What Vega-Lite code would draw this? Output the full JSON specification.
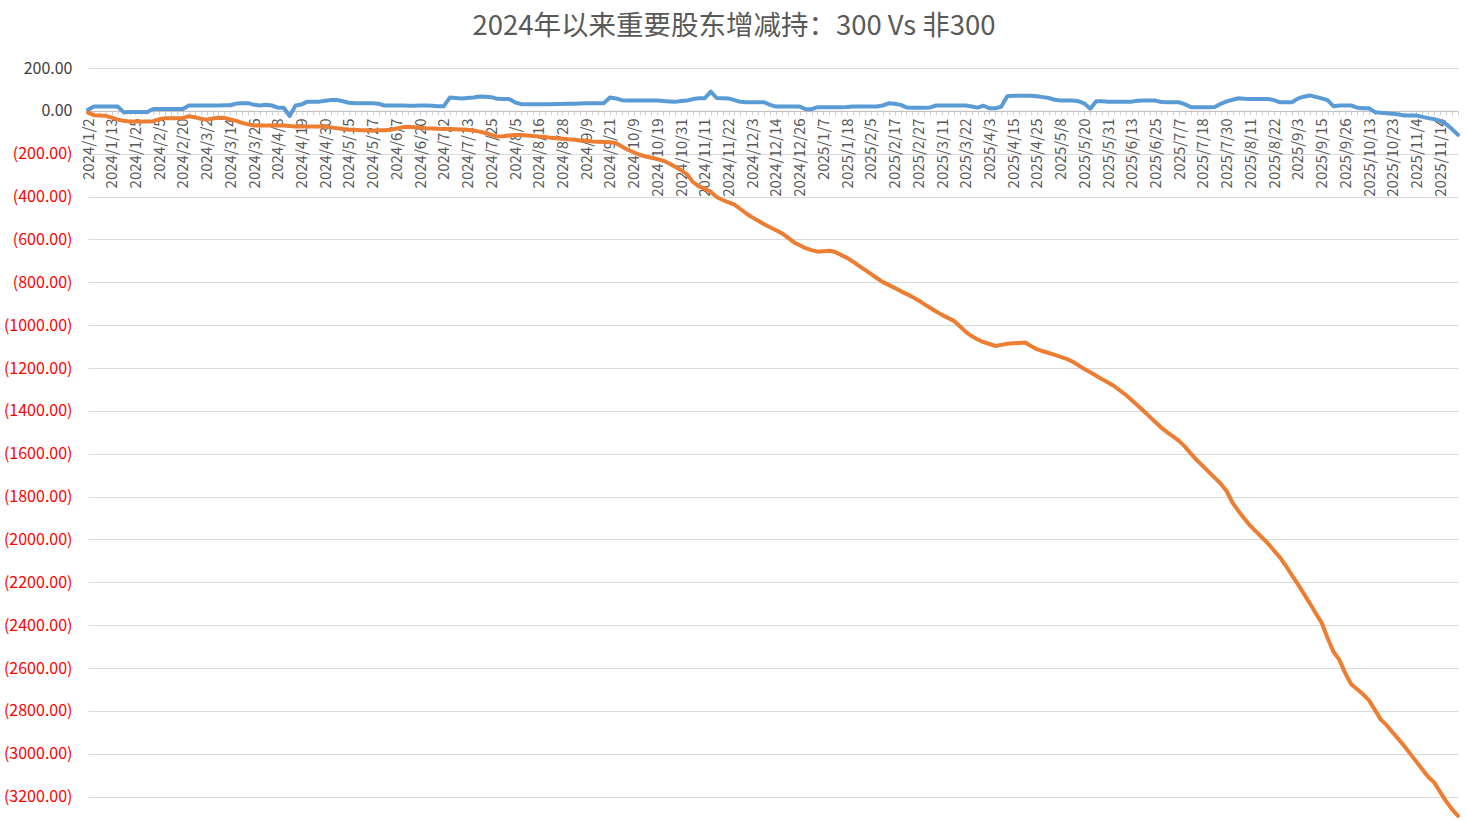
{
  "$schema": "https://vega.github.io/schema/vega-lite/v6.json",
  "width": 1370,
  "height": 750,
  "autosize": {"type": "none"},
  "padding": {"left": 88, "top": 68, "right": 9, "bottom": 4},
  "background": "white",
  "config": {"view": {"stroke": null}},
  "params": [
    {"name": "labs", "value": ["2024/1/2","2024/1/13","2024/1/25","2024/2/5","2024/2/20","2024/3/2","2024/3/14","2024/3/26","2024/4/8","2024/4/19","2024/4/30","2024/5/15","2024/5/27","2024/6/7","2024/6/20","2024/7/2","2024/7/13","2024/7/25","2024/8/5","2024/8/16","2024/8/28","2024/9/9","2024/9/21","2024/10/9","2024/10/19","2024/10/31","2024/11/11","2024/11/22","2024/12/3","2024/12/14","2024/12/26","2025/1/7","2025/1/18","2025/2/5","2025/2/17","2025/2/27","2025/3/11","2025/3/22","2025/4/3","2025/4/15","2025/4/25","2025/5/8","2025/5/20","2025/5/31","2025/6/13","2025/6/25","2025/7/7","2025/7/18","2025/7/30","2025/8/11","2025/8/22","2025/9/3","2025/9/15","2025/9/26","2025/10/13","2025/10/23","2025/11/4","2025/11/14"]}
  ],
  "title": {
    "text": "2024年以来重要股东增减持：300 Vs 非300",
    "font": "Noto Sans CJK SC",
    "fontSize": 27.5,
    "fontWeight": "normal",
    "color": "#595959",
    "anchor": "middle",
    "frame": "group",
    "dx": -39,
    "offset": 20
  },
  "data": {"values": [
    {"d":"2024/1/2","300":5,"非300":-8},
    {"d":"2024/1/4","300":20,"非300":-20},
    {"d":"2024/1/8","300":20,"非300":-22},
    {"d":"2024/1/10","300":20,"非300":-23},
    {"d":"2024/1/13","300":20,"非300":-32},
    {"d":"2024/1/16","300":20,"非300":-41},
    {"d":"2024/1/18","300":-6,"非300":-46},
    {"d":"2024/1/22","300":-5,"非300":-50},
    {"d":"2024/1/25","300":-5,"非300":-50},
    {"d":"2024/1/27","300":-5,"非300":-50},
    {"d":"2024/1/30","300":-5,"非300":-50},
    {"d":"2024/2/1","300":9,"非300":-48},
    {"d":"2024/2/5","300":9,"非300":-39},
    {"d":"2024/2/6","300":9,"非300":-34},
    {"d":"2024/2/8","300":9,"非300":-34},
    {"d":"2024/2/19","300":9,"非300":-34},
    {"d":"2024/2/20","300":9,"非300":-34},
    {"d":"2024/2/22","300":25,"非300":-25},
    {"d":"2024/2/26","300":25,"非300":-30},
    {"d":"2024/2/28","300":25,"非300":-37},
    {"d":"2024/3/2","300":25,"非300":-41},
    {"d":"2024/3/5","300":25,"非300":-36},
    {"d":"2024/3/8","300":25,"非300":-32},
    {"d":"2024/3/11","300":26,"非300":-33},
    {"d":"2024/3/14","300":26,"非300":-40},
    {"d":"2024/3/18","300":34,"非300":-47},
    {"d":"2024/3/20","300":36,"非300":-56},
    {"d":"2024/3/22","300":36,"非300":-63},
    {"d":"2024/3/26","300":28,"非300":-68},
    {"d":"2024/3/28","300":25,"非300":-68},
    {"d":"2024/4/1","300":28,"非300":-68},
    {"d":"2024/4/3","300":25,"非300":-68},
    {"d":"2024/4/8","300":15,"非300":-68},
    {"d":"2024/4/10","300":15,"非300":-68},
    {"d":"2024/4/12","300":-24,"非300":-71},
    {"d":"2024/4/16","300":25,"非300":-73},
    {"d":"2024/4/19","300":30,"非300":-73},
    {"d":"2024/4/22","300":43,"非300":-73},
    {"d":"2024/4/24","300":43,"非300":-73},
    {"d":"2024/4/26","300":43,"非300":-73},
    {"d":"2024/4/30","300":47,"非300":-73},
    {"d":"2024/5/7","300":51,"非300":-77},
    {"d":"2024/5/9","300":51,"非300":-81},
    {"d":"2024/5/13","300":45,"非300":-85},
    {"d":"2024/5/15","300":38,"非300":-87},
    {"d":"2024/5/17","300":36,"非300":-88},
    {"d":"2024/5/21","300":36,"非300":-90},
    {"d":"2024/5/23","300":36,"非300":-91},
    {"d":"2024/5/27","300":36,"非300":-93},
    {"d":"2024/5/29","300":33,"非300":-91},
    {"d":"2024/5/31","300":25,"非300":-90},
    {"d":"2024/6/4","300":25,"非300":-88},
    {"d":"2024/6/7","300":25,"非300":-82},
    {"d":"2024/6/12","300":25,"非300":-77},
    {"d":"2024/6/14","300":24,"非300":-74},
    {"d":"2024/6/18","300":24,"非300":-76},
    {"d":"2024/6/20","300":25,"非300":-79},
    {"d":"2024/6/24","300":25,"非300":-81},
    {"d":"2024/6/26","300":24,"非300":-82},
    {"d":"2024/6/28","300":22,"非300":-84},
    {"d":"2024/7/2","300":22,"非300":-85},
    {"d":"2024/7/4","300":62,"非300":-85},
    {"d":"2024/7/8","300":60,"非300":-86},
    {"d":"2024/7/10","300":58,"非300":-87},
    {"d":"2024/7/13","300":60,"非300":-88},
    {"d":"2024/7/16","300":62,"非300":-92},
    {"d":"2024/7/18","300":67,"非300":-97},
    {"d":"2024/7/22","300":66,"非300":-103},
    {"d":"2024/7/25","300":64,"非300":-112},
    {"d":"2024/7/29","300":56,"非300":-120},
    {"d":"2024/7/31","300":55,"非300":-118},
    {"d":"2024/8/2","300":55,"非300":-115},
    {"d":"2024/8/5","300":40,"非300":-113},
    {"d":"2024/8/7","300":31,"非300":-113},
    {"d":"2024/8/9","300":31,"非300":-115},
    {"d":"2024/8/13","300":31,"非300":-117},
    {"d":"2024/8/16","300":31,"非300":-120},
    {"d":"2024/8/20","300":31,"非300":-122},
    {"d":"2024/8/22","300":31,"非300":-125},
    {"d":"2024/8/26","300":32,"非300":-128},
    {"d":"2024/8/28","300":32,"非300":-130},
    {"d":"2024/8/30","300":33,"非300":-133},
    {"d":"2024/9/3","300":33,"非300":-135},
    {"d":"2024/9/5","300":34,"非300":-138},
    {"d":"2024/9/9","300":35,"非300":-140},
    {"d":"2024/9/11","300":36,"非300":-143},
    {"d":"2024/9/13","300":36,"非300":-144},
    {"d":"2024/9/19","300":36,"非300":-145},
    {"d":"2024/9/21","300":62,"非300":-147},
    {"d":"2024/9/25","300":58,"非300":-150},
    {"d":"2024/9/27","300":50,"非300":-166},
    {"d":"2024/9/30","300":48,"非300":-181},
    {"d":"2024/10/9","300":48,"非300":-193},
    {"d":"2024/10/11","300":48,"非300":-205},
    {"d":"2024/10/15","300":48,"非300":-213},
    {"d":"2024/10/17","300":48,"非300":-219},
    {"d":"2024/10/19","300":48,"非300":-225},
    {"d":"2024/10/23","300":46,"非300":-232},
    {"d":"2024/10/25","300":44,"非300":-246},
    {"d":"2024/10/29","300":42,"非300":-261},
    {"d":"2024/10/31","300":46,"非300":-277},
    {"d":"2024/11/4","300":48,"非300":-296},
    {"d":"2024/11/6","300":55,"非300":-332},
    {"d":"2024/11/8","300":59,"非300":-352},
    {"d":"2024/11/11","300":59,"非300":-363},
    {"d":"2024/11/14","300":90,"非300":-378},
    {"d":"2024/11/18","300":60,"非300":-402},
    {"d":"2024/11/20","300":59,"非300":-416},
    {"d":"2024/11/22","300":58,"非300":-427},
    {"d":"2024/11/26","300":50,"非300":-438},
    {"d":"2024/11/28","300":42,"非300":-458},
    {"d":"2024/11/30","300":40,"非300":-479},
    {"d":"2024/12/3","300":40,"非300":-497},
    {"d":"2024/12/5","300":40,"非300":-513},
    {"d":"2024/12/9","300":40,"非300":-529},
    {"d":"2024/12/11","300":28,"非300":-543},
    {"d":"2024/12/14","300":20,"非300":-557},
    {"d":"2024/12/17","300":20,"非300":-571},
    {"d":"2024/12/19","300":20,"非300":-592},
    {"d":"2024/12/23","300":20,"非300":-613},
    {"d":"2024/12/26","300":20,"非300":-627},
    {"d":"2024/12/30","300":8,"非300":-641},
    {"d":"2025/1/2","300":8,"非300":-650},
    {"d":"2025/1/3","300":17,"非300":-657},
    {"d":"2025/1/7","300":17,"非300":-655},
    {"d":"2025/1/9","300":17,"非300":-653},
    {"d":"2025/1/13","300":17,"非300":-659},
    {"d":"2025/1/15","300":17,"非300":-673},
    {"d":"2025/1/18","300":18,"非300":-686},
    {"d":"2025/1/21","300":20,"非300":-704},
    {"d":"2025/1/23","300":20,"非300":-723},
    {"d":"2025/1/27","300":20,"非300":-742},
    {"d":"2025/2/5","300":20,"非300":-761},
    {"d":"2025/2/7","300":20,"非300":-780},
    {"d":"2025/2/11","300":25,"非300":-799},
    {"d":"2025/2/13","300":35,"非300":-812},
    {"d":"2025/2/17","300":33,"非300":-826},
    {"d":"2025/2/19","300":28,"非300":-841},
    {"d":"2025/2/21","300":16,"非300":-854},
    {"d":"2025/2/25","300":15,"非300":-868},
    {"d":"2025/2/27","300":15,"非300":-884},
    {"d":"2025/3/3","300":15,"非300":-902},
    {"d":"2025/3/5","300":16,"非300":-919},
    {"d":"2025/3/7","300":25,"非300":-936},
    {"d":"2025/3/11","300":25,"非300":-952},
    {"d":"2025/3/13","300":25,"非300":-966},
    {"d":"2025/3/17","300":25,"非300":-980},
    {"d":"2025/3/19","300":25,"非300":-1005},
    {"d":"2025/3/22","300":25,"非300":-1031},
    {"d":"2025/3/25","300":20,"非300":-1051},
    {"d":"2025/3/27","300":15,"非300":-1067},
    {"d":"2025/3/31","300":24,"非300":-1079},
    {"d":"2025/4/3","300":12,"非300":-1088},
    {"d":"2025/4/7","300":12,"非300":-1097},
    {"d":"2025/4/9","300":20,"非300":-1092},
    {"d":"2025/4/11","300":68,"非300":-1087},
    {"d":"2025/4/15","300":70,"非300":-1085},
    {"d":"2025/4/17","300":70,"非300":-1083},
    {"d":"2025/4/21","300":70,"非300":-1081},
    {"d":"2025/4/23","300":70,"非300":-1097},
    {"d":"2025/4/25","300":68,"非300":-1112},
    {"d":"2025/4/28","300":64,"非300":-1122},
    {"d":"2025/4/30","300":60,"非300":-1130},
    {"d":"2025/5/6","300":52,"非300":-1139},
    {"d":"2025/5/8","300":48,"非300":-1148},
    {"d":"2025/5/12","300":48,"非300":-1157},
    {"d":"2025/5/14","300":48,"非300":-1170},
    {"d":"2025/5/16","300":45,"非300":-1187},
    {"d":"2025/5/20","300":34,"非300":-1205},
    {"d":"2025/5/22","300":10,"非300":-1220},
    {"d":"2025/5/26","300":45,"非300":-1236},
    {"d":"2025/5/28","300":45,"非300":-1253},
    {"d":"2025/5/31","300":43,"非300":-1268},
    {"d":"2025/6/4","300":43,"非300":-1284},
    {"d":"2025/6/6","300":43,"非300":-1305},
    {"d":"2025/6/10","300":43,"非300":-1326},
    {"d":"2025/6/13","300":43,"非300":-1350},
    {"d":"2025/6/17","300":47,"非300":-1375},
    {"d":"2025/6/19","300":48,"非300":-1401},
    {"d":"2025/6/23","300":48,"非300":-1427},
    {"d":"2025/6/25","300":48,"非300":-1453},
    {"d":"2025/6/27","300":41,"非300":-1479},
    {"d":"2025/7/1","300":40,"非300":-1500},
    {"d":"2025/7/3","300":40,"非300":-1520},
    {"d":"2025/7/7","300":40,"非300":-1541},
    {"d":"2025/7/9","300":30,"非300":-1568},
    {"d":"2025/7/11","300":17,"非300":-1601},
    {"d":"2025/7/15","300":17,"非300":-1631},
    {"d":"2025/7/18","300":17,"非300":-1658},
    {"d":"2025/7/22","300":17,"非300":-1686},
    {"d":"2025/7/24","300":18,"非300":-1713},
    {"d":"2025/7/28","300":33,"非300":-1740},
    {"d":"2025/7/30","300":44,"非300":-1775},
    {"d":"2025/8/1","300":52,"非300":-1829},
    {"d":"2025/8/5","300":59,"非300":-1868},
    {"d":"2025/8/7","300":56,"非300":-1903},
    {"d":"2025/8/11","300":55,"非300":-1937},
    {"d":"2025/8/13","300":55,"非300":-1965},
    {"d":"2025/8/15","300":55,"非300":-1992},
    {"d":"2025/8/19","300":55,"非300":-2020},
    {"d":"2025/8/22","300":50,"非300":-2053},
    {"d":"2025/8/26","300":40,"非300":-2085},
    {"d":"2025/8/28","300":40,"非300":-2124},
    {"d":"2025/9/1","300":40,"非300":-2167},
    {"d":"2025/9/3","300":57,"非300":-2209},
    {"d":"2025/9/5","300":66,"非300":-2253},
    {"d":"2025/9/9","300":72,"非300":-2297},
    {"d":"2025/9/11","300":65,"非300":-2344},
    {"d":"2025/9/15","300":58,"非300":-2388},
    {"d":"2025/9/17","300":50,"非300":-2460},
    {"d":"2025/9/19","300":22,"非300":-2524},
    {"d":"2025/9/23","300":25,"非300":-2562},
    {"d":"2025/9/26","300":25,"非300":-2625},
    {"d":"2025/9/29","300":25,"非300":-2676},
    {"d":"2025/10/9","300":15,"非300":-2699},
    {"d":"2025/10/10","300":12,"非300":-2723},
    {"d":"2025/10/13","300":12,"非300":-2751},
    {"d":"2025/10/15","300":-6,"非300":-2796},
    {"d":"2025/10/17","300":-9,"非300":-2841},
    {"d":"2025/10/21","300":-11,"非300":-2868},
    {"d":"2025/10/23","300":-13,"非300":-2901},
    {"d":"2025/10/27","300":-17,"非300":-2933},
    {"d":"2025/10/29","300":-22,"非300":-2966},
    {"d":"2025/10/31","300":-22,"非300":-3002},
    {"d":"2025/11/4","300":-22,"非300":-3038},
    {"d":"2025/11/6","300":-28,"非300":-3074},
    {"d":"2025/11/10","300":-34,"非300":-3109},
    {"d":"2025/11/12","300":-39,"非300":-3135},
    {"d":"2025/11/14","300":-47,"非300":-3179},
    {"d":"2025/11/17","300":-62,"非300":-3222},
    {"d":"2025/11/19","300":-85,"非300":-3260},
    {"d":"2025/11/21","300":-112,"非300":-3290}
  ]},
  "transform": [{"fold": ["300", "非300"], "as": ["s", "v"]}],
  "mark": {"type": "line", "strokeWidth": 4, "strokeJoin": "round", "strokeCap": "round"},
  "encoding": {
    "x": {
      "field": "d",
      "type": "ordinal",
      "sort": null,
      "scale": {"type": "point", "padding": 0},
      "axis": {
        "title": null,
        "orient": "bottom",
        "offset": -707.143,
        "grid": false,
        "labelExpr": "indexof(labs, datum.value) >= 0 ? datum.value : ''",
        "labelOverlap": false,
        "labelFlush": false,
        "labelBound": false,
        "labelAngle": -90,
        "labelFont": "Noto Sans CJK SC",
        "labelFontSize": 15,
        "labelColor": "#595959",
        "labelPadding": 3,
        "tickSize": 4,
        "tickColor": "#D0D0D0",
        "domainColor": "#BFBFBF",
        "domainWidth": 1
      }
    },
    "y": {
      "field": "v",
      "type": "quantitative",
      "scale": {"domain": [-3300, 200], "nice": false, "zero": false},
      "axis": {
        "title": null,
        "values": [200, 0, -200, -400, -600, -800, -1000, -1200, -1400, -1600, -1800, -2000, -2200, -2400, -2600, -2800, -3000, -3200],
        "labelExpr": "datum.value < 0 ? '(' + format(-datum.value, '.2f') + ')' : format(datum.value, '.2f') + '\u00a0'",
        "labelColor": {"condition": {"test": "datum.value < 0", "value": "#FF0000"}, "value": "#404040"},
        "labelFont": "Noto Sans CJK SC",
        "labelFontSize": 16,
        "labelPadding": 16,
        "ticks": false,
        "domain": false,
        "grid": true,
        "gridColor": "#D9D9D9",
        "gridWidth": 1
      }
    },
    "color": {
      "field": "s",
      "type": "nominal",
      "scale": {"domain": ["300", "非300"], "range": ["#5B9BD5", "#ED7D31"]},
      "legend": null
    }
  }
}
